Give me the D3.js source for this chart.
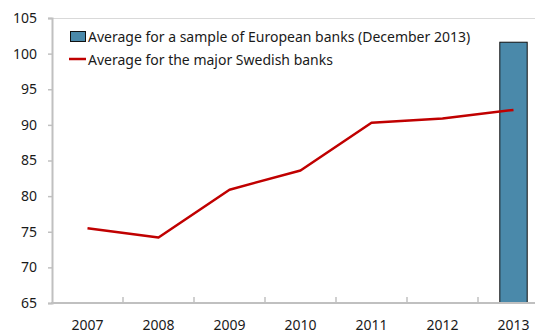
<!DOCTYPE html>
<html>
<head>
<meta charset="utf-8">
<script src="https://cdn.jsdelivr.net/npm/d3@7"></script>
<style>
  html, body { margin: 0; padding: 0; background: #fff; }
  svg { display: block; }
  text { font-family: "Noto Sans", "Open Sans", sans-serif; fill: #1a1a1a; }
</style>
</head>
<body>
<svg id="chart" width="535" height="335"></svg>
<script>
// Years on the category axis
const years = ["2007", "2008", "2009", "2010", "2011", "2012", "2013"];
// Average for the major Swedish banks
const swedishAvg = [75.5, 74.2, 80.9, 83.6, 90.3, 90.9, 92.1];
// Average for a sample of European banks (December 2013), only in the final year
const europeanYear = ["2013"];
const europeanAvg = [101.6];
// Value axis ticks
const yTicks = [65, 70, 75, 80, 85, 90, 95, 100, 105];

const legendLabels = [
  "Average for a sample of European banks (December 2013)",
  "Average for the major Swedish banks"
];

const svg = d3.select("#chart");
const plot = { left: 52, right: 549, top: 18, bottom: 303 };
const axisColor = "#c0c0c0";

const x = d3.scaleBand().domain(years).range([plot.left, plot.right]);
const y = d3.scaleLinear().domain([65, 105]).range([plot.bottom, plot.top]);

// Plot frame (top and right edges)
svg.append("path")
  .attr("d", `M${plot.left},${plot.top + 0.5}H${plot.right}V${plot.bottom}`)
  .attr("fill", "none").attr("stroke", "#d9d9d9").attr("stroke-width", 1);

// European banks bar
svg.selectAll("rect.bar").data(europeanYear.map((yr, i) => ({ yr, v: europeanAvg[i] })))
  .enter().append("rect").attr("class", "bar")
  .attr("x", d => x(d.yr) + x.bandwidth() * 0.3 + 0.5)
  .attr("width", x.bandwidth() * 0.4 - 1)
  .attr("y", d => y(d.v))
  .attr("height", d => y(65) - y(d.v))
  .attr("fill", "#4a89aa").attr("stroke", "#111").attr("stroke-width", 1);

// Y axis
const yAxis = svg.append("g").attr("transform", `translate(${plot.left},0)`)
  .call(d3.axisLeft(y).tickValues(yTicks).tickSize(4).tickPadding(11).tickFormat(d3.format("d")));
yAxis.select(".domain").attr("stroke", axisColor).attr("stroke-width", 2);
yAxis.selectAll(".tick line").attr("stroke", axisColor).attr("stroke-width", 1.5);
yAxis.selectAll(".tick text").attr("font-size", 14).attr("fill", "#1a1a1a")
  .style("font-family", '"Noto Sans", sans-serif');

// X axis: ticks sit on category boundaries and point up into the plot
const xAxis = svg.append("g").attr("transform", `translate(0,${plot.bottom})`);
xAxis.append("line").attr("x1", plot.left - 1).attr("x2", plot.right)
  .attr("stroke", axisColor).attr("stroke-width", 2);
xAxis.selectAll("line.tick").data(years.slice(1)).enter().append("line")
  .attr("class", "tick")
  .attr("x1", d => x(d)).attr("x2", d => x(d))
  .attr("y1", 0).attr("y2", -6)
  .attr("stroke", axisColor).attr("stroke-width", 1.5);
xAxis.selectAll("text").data(years).enter().append("text")
  .attr("x", d => x(d) + x.bandwidth() / 2)
  .attr("y", 27)
  .attr("text-anchor", "middle")
  .attr("font-size", 14)
  .text(d => d);

// Swedish banks line
const line = d3.line()
  .x((d, i) => x(years[i]) + x.bandwidth() / 2)
  .y(d => y(d));
svg.append("path").datum(swedishAvg)
  .attr("d", line)
  .attr("fill", "none").attr("stroke", "#c00000").attr("stroke-width", 2.5)
  .attr("stroke-linejoin", "round");

// Legend
const legend = svg.append("g");
legend.append("rect").attr("x", 70.5).attr("y", 31.5).attr("width", 15).attr("height", 10)
  .attr("fill", "#4a89aa").attr("stroke", "#111").attr("stroke-width", 1);
legend.append("line").attr("x1", 69).attr("x2", 86).attr("y1", 59).attr("y2", 59)
  .attr("stroke", "#c00000").attr("stroke-width", 2.5);
legend.selectAll("text").data(legendLabels).enter().append("text")
  .attr("x", 88).attr("y", (d, i) => 41.5 + i * 23.5)
  .attr("font-size", 14)
  .text(d => d);
</script>
</body>
</html>
